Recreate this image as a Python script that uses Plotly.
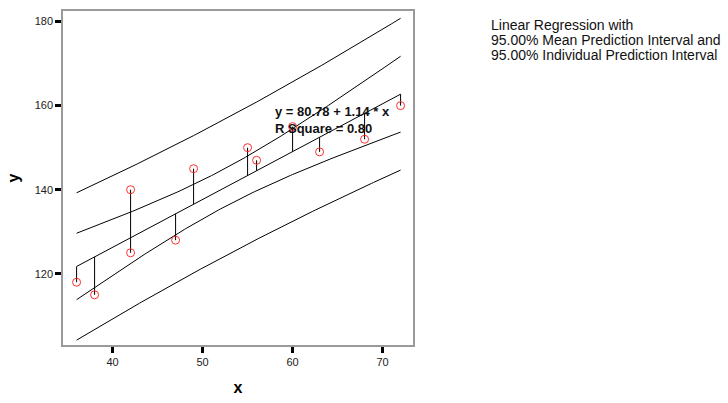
import numpy as np
import plotly.graph_objects as go

# Observations
x_obs = [36, 38, 42, 42, 47, 49, 55, 56, 60, 63, 68, 72]
y_obs = [118, 115, 125, 140, 128, 145, 150, 147, 155, 149, 152, 160]

x_ticks = [40, 50, 60, 70]
y_ticks = [120, 140, 160, 180]

legend_lines = [
    "Linear Regression with",
    "95.00% Mean Prediction Interval and",
    "95.00% Individual Prediction Interval",
]

T_CRIT = 2.2281  # Student t, 97.5% quantile, 10 degrees of freedom

# Ordinary least squares fit
x = np.array(x_obs, dtype=float)
y = np.array(y_obs, dtype=float)
n = len(x)
xm, ym = x.mean(), y.mean()
sxx = ((x - xm) ** 2).sum()
sxy = ((x - xm) * (y - ym)).sum()
syy = ((y - ym) ** 2).sum()
slope = sxy / sxx
intercept = ym - slope * xm
r2 = sxy ** 2 / (sxx * syy)
s = np.sqrt((syy - sxy ** 2 / sxx) / (n - 2))

xs = np.linspace(x.min(), x.max(), 145)
fit = intercept + slope * xs
lev = 1.0 / n + (xs - xm) ** 2 / sxx
mean_hw = T_CRIT * s * np.sqrt(lev)
ind_hw = T_CRIT * s * np.sqrt(1.0 + lev)

FONT = "Arial, Liberation Sans, sans-serif"
fig = go.Figure()

line_style = dict(color="black", width=1)
for curve in [fit + ind_hw, fit + mean_hw, fit, fit - mean_hw, fit - ind_hw]:
    fig.add_trace(go.Scatter(x=xs, y=curve, mode="lines", line=line_style,
                             hoverinfo="skip", showlegend=False))

# Residual segments from each observation to the fitted line
seg_x, seg_y = [], []
for xi, yi in zip(x, y):
    seg_x += [xi, xi, None]
    seg_y += [yi, intercept + slope * xi, None]
fig.add_trace(go.Scatter(x=seg_x, y=seg_y, mode="lines", line=line_style,
                         hoverinfo="skip", showlegend=False))

fig.add_trace(go.Scatter(x=x_obs, y=y_obs, mode="markers",
                         marker=dict(symbol="circle-open", size=8,
                                     color="#ff3030", line=dict(width=1)),
                         showlegend=False))

# Fit equation and R square
fig.add_annotation(
    x=57.85, y=156.5, xref="x", yref="y", xanchor="left", yanchor="middle",
    align="left", showarrow=False,
    text=f"<b>y = {intercept:.2f} + {slope:.2f} * x<br>R Square = {r2:.2f}</b>",
    font=dict(family=FONT, size=13, color="#111"),
)

# Description text to the right of the plot
for txt, yp in zip(legend_lines, [0.9576, 0.9123, 0.8670]):
    fig.add_annotation(
        x=1.218, y=yp, xref="paper", yref="paper", xanchor="left",
        yanchor="middle", showarrow=False, text=txt,
        font=dict(family=FONT, size=14, color="#111"),
    )

axis_common = dict(
    showgrid=False, zeroline=False, showline=True, mirror=True,
    linecolor="#9a9a9a", linewidth=1.5,
    ticks="outside", ticklen=6, tickwidth=3, tickcolor="black",
    tickfont=dict(family=FONT, size=11, color="#222"),
)

fig.update_xaxes(range=[34.49, 73.38], tickvals=x_ticks, **axis_common,
                 title=dict(text="<b>x</b>", standoff=15,
                            font=dict(family=FONT, size=16, color="black")))
fig.update_yaxes(range=[103.07, 182.5], tickvals=y_ticks, **axis_common,
                 title=dict(text="<b>y</b>", standoff=11,
                            font=dict(family=FONT, size=16, color="black")))

fig.update_layout(
    width=728, height=403,
    margin=dict(l=63, r=315, t=9, b=52),
    paper_bgcolor="white", plot_bgcolor="white",
    font=dict(family=FONT),
)

fig.write_html("out.html")
